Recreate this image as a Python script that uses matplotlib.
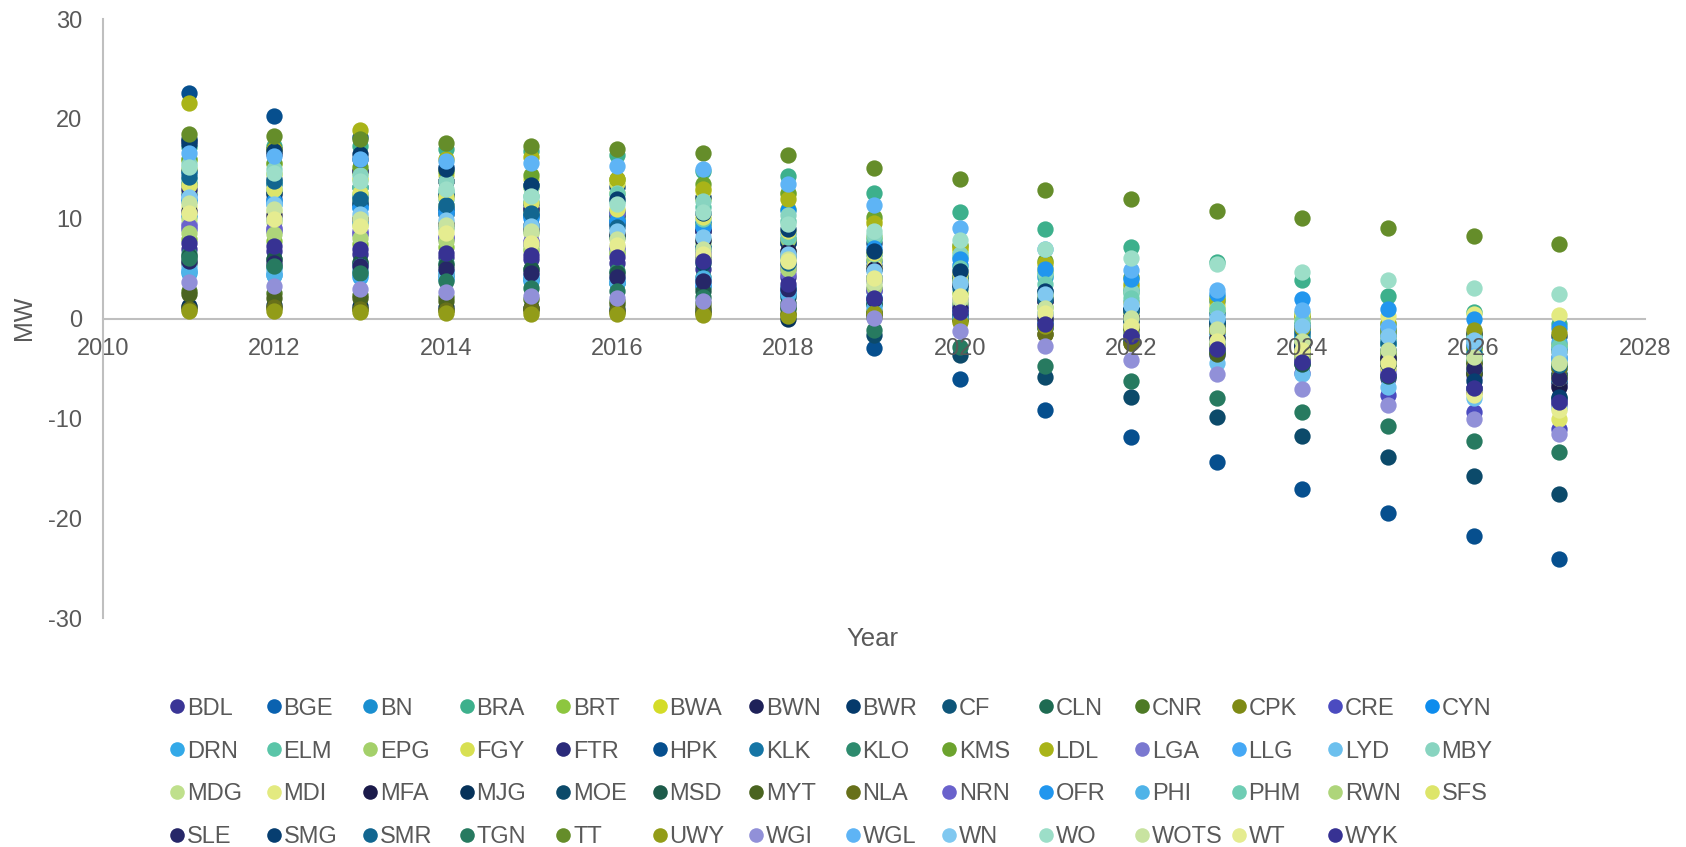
import matplotlib
matplotlib.use("Agg")
import matplotlib.pyplot as plt
from matplotlib.lines import Line2D

plt.rcParams['font.family'] = ['Liberation Sans', 'DejaVu Sans']
plt.rcParams['axes.unicode_minus'] = False

# Data
years = list(range(2011, 2028))

BDL  = [7.0, 6.8, 6.5, 6.2, 6.0, 5.6, 5.0, 4.2, 2.8, 1.3, -0.2, -1.6, -3.0, -4.5, -6.0, -7.4, -8.6]
BGE  = [12.5, 12.0, 11.5, 11.0, 10.4, 9.9, 9.0, 7.6, 5.8, 4.2, 2.6, 1.0, -0.6, -2.0, -3.4, -4.7, -6.0]
BN   = [10.3, 10.0, 9.6, 9.2, 8.8, 8.3, 7.8, 6.8, 5.2, 3.8, 2.4, 1.0, -0.2, -1.4, -2.6, -3.7, -4.8]
BRA  = [17.2, 17.3, 17.3, 17.0, 16.8, 16.4, 14.8, 14.3, 12.6, 10.7, 9.0, 7.2, 5.7, 3.9, 2.3, 0.7, -0.6]
BRT  = [8.0, 7.8, 7.5, 7.2, 6.9, 6.6, 6.2, 5.4, 4.0, 2.6, 1.2, -0.2, -1.4, -2.6, -3.8, -4.9, -6.0]
BWA  = [15.0, 14.5, 14.0, 13.8, 13.2, 12.6, 12.0, 11.0, 8.2, 6.8, 4.8, 2.8, 0.8, -0.6, -2.0, -3.4, -4.8]
BWN  = [17.8, 16.5, 14.8, 13.8, 11.0, 10.2, 8.8, 6.6, 5.2, 3.6, 2.1, 0.7, -0.7, -2.0, -3.3, -4.5, -5.6]
BWR  = [18.0, 17.0, 16.5, 12.4, 11.5, 13.2, 12.2, 7.6, 7.6, 4.3, 2.5, 1.0, -0.5, -2.0, -3.5, -5.0, -6.3]
CF   = [14.8, 14.0, 13.2, 12.4, 11.6, 10.8, 9.6, 8.0, 5.3, 3.9, 2.3, 0.9, -0.5, -1.9, -3.2, -4.4, -5.6]
CLN  = [5.6, 5.2, 4.8, 4.4, 4.0, 3.6, 3.2, 2.5, 1.5, 0.5, -0.6, -1.6, -2.6, -3.6, -4.6, -5.5, -6.4]
CNR  = [2.8, 2.6, 2.4, 2.2, 2.0, 1.8, 1.6, 1.2, 0.8, 0.2, -0.5, -1.2, -2.0, -2.8, -3.5, -4.2, -5.0]
CPK  = [1.2, 1.1, 1.0, 0.9, 0.8, 0.7, 0.6, 0.5, 0.3, 0.0, -0.4, -0.8, -1.3, -1.8, -2.3, -2.8, -3.3]
CRE  = [9.0, 8.8, 8.5, 8.0, 7.5, 7.0, 6.0, 5.0, 3.0, 1.5, -0.5, -2.0, -3.7, -5.5, -7.7, -9.4, -11.1]
CYN  = [11.8, 11.5, 11.2, 10.8, 10.4, 10.0, 9.6, 10.9, 6.5, 5.4, 4.2, 3.0, 1.8, 0.6, -0.6, -1.8, -3.0]
DRN  = [4.6, 4.4, 4.2, 4.0, 3.8, 3.6, 3.4, 3.0, 2.2, 1.4, 0.6, -0.2, -1.0, -1.8, -2.6, -3.4, -4.2]
ELM  = [14.0, 13.6, 13.2, 12.8, 12.3, 11.8, 11.2, 9.8, 8.0, 6.2, 4.4, 2.6, 0.8, -1.0, -2.6, -4.2, -5.8]
EPG  = [12.8, 12.8, 12.0, 11.4, 10.8, 10.2, 9.4, 8.0, 6.0, 4.2, 2.4, 0.7, -0.9, -2.5, -4.0, -5.4, -6.6]
FGY  = [15.9, 15.5, 14.6, 14.4, 14.0, 13.6, 12.8, 12.5, 9.9, 7.3, 5.2, 3.2, 1.4, 0.1, -1.3, -3.0, -4.8]
FTR  = [13.0, 12.5, 14.8, 13.8, 11.0, 9.5, 8.8, 6.6, 5.0, 3.4, 1.8, 0.3, -1.2, -2.7, -4.0, -5.3, -6.5]
HPK  = [22.6, 20.3, 18.2, 15.2, 13.4, 10.4, 7.2, 3.1, -3.0, -6.1, -9.2, -11.9, -14.4, -17.1, -19.5, -21.8, -24.1]
KLK  = [14.6, 13.5, 12.3, 11.1, 10.3, 9.6, 7.3, 6.2, 5.0, 4.0, 2.8, 1.7, 0.5, -0.6, -1.7, -2.8, -3.9]
KLO  = [6.5, 6.0, 5.6, 5.6, 5.0, 4.8, 4.2, 3.0, 1.8, 0.5, -0.9, -2.2, -3.4, -4.6, -5.8, -7.0, -8.0]
KMS  = [16.0, 15.6, 15.2, 14.8, 14.4, 14.0, 13.5, 12.6, 10.2, 7.4, 5.8, 4.2, 2.2, 0.4, -1.4, -3.0, -4.6]
LDL  = [21.6, 17.0, 18.9, 16.0, 16.2, 14.0, 13.0, 12.0, 9.6, 7.1, 5.6, 3.5, 1.9, 0.3, -0.5, -1.6, -2.6]
LGA  = [9.5, 9.0, 8.6, 8.2, 7.7, 7.2, 6.6, 5.5, 3.8, 2.0, 0.3, -1.3, -2.8, -4.0, -5.2, -6.0, -6.8]
LLG  = [4.8, 4.6, 4.4, 4.2, 4.0, 3.7, 3.4, 2.8, 1.8, 0.8, -0.2, -1.2, -2.2, -3.2, -4.2, -5.2, -6.2]
LYD  = [5.2, 5.0, 4.8, 4.6, 4.4, 4.1, 3.8, 3.2, 2.0, 0.6, -0.8, -2.2, -4.5, -5.6, -6.9, -8.0, -9.0]
MBY  = [15.5, 15.0, 14.4, 13.8, 13.2, 12.6, 11.8, 10.4, 8.4, 6.5, 4.6, 2.8, 1.0, -0.7, -2.3, -3.8, -5.2]
MDG  = [10.0, 9.7, 9.4, 9.0, 8.6, 8.2, 7.6, 6.6, 5.0, 3.5, 2.0, 0.6, -0.8, -2.2, -3.5, -4.8, -6.0]
MDI  = [11.2, 10.8, 10.2, 9.7, 9.2, 8.6, 8.0, 6.8, 5.2, 3.8, 2.4, 1.6, 1.0, 0.6, 0.3, 0.5, 0.4]
MFA  = [10.8, 10.4, 10.0, 9.5, 9.0, 8.5, 7.9, 6.8, 5.0, 3.4, 1.8, 0.2, -1.4, -2.8, -4.2, -5.6, -6.9]
MJG  = [1.3, 1.4, 1.3, 1.2, 1.1, 1.0, 0.9, -0.1, 0.6, 0.3, 0.0, -0.3, -0.6, -0.9, -1.2, -1.5, -1.8]
MOE  = [13.5, 12.6, 11.6, 10.5, 9.4, 8.2, 5.6, 2.2, -1.7, -3.7, -5.9, -7.9, -9.9, -11.8, -13.9, -15.8, -17.6]
MSD  = [6.3, 6.0, 5.7, 5.4, 5.0, 4.6, 2.8, 1.6, 1.5, 0.2, -1.0, -2.2, -3.4, -4.6, -5.8, -7.0, -8.1]
MYT  = [2.5, 2.1, 2.1, 1.8, 1.1, 1.5, 1.2, 1.0, 0.5, 0.0, -1.6, -2.5, -3.6, -4.1, -4.7, -5.5, -5.8]
NLA  = [1.0, 1.2, 1.0, 0.9, 1.0, 0.8, 0.7, 0.5, 0.2, -0.2, -1.6, -2.5, -3.0, -3.5, -4.0, -4.5, -5.0]
NRN  = [9.3, 9.1, 8.8, 8.2, 7.8, 10.6, 6.5, 4.5, 3.0, 1.3, -0.2, -1.6, -3.0, -4.3, -5.6, -7.0, -8.2]
OFR  = [12.0, 11.8, 11.1, 10.6, 10.1, 9.8, 9.2, 8.6, 7.1, 6.0, 5.0, 4.0, 2.5, 2.0, 1.0, -0.1, -1.0]
PHI  = [4.8, 4.4, 5.3, 4.8, 4.2, 3.8, 4.1, 2.5, 1.2, 0.2, -0.5, -1.0, -1.6, -2.0, -2.2, -2.3, -2.4]
PHM  = [13.6, 13.0, 12.5, 12.0, 11.8, 12.5, 10.0, 8.2, 6.5, 5.1, 3.5, 2.1, 1.0, -0.3, -1.2, -2.0, -2.8]
RWN  = [8.6, 8.5, 8.1, 7.8, 7.2, 6.7, 6.0, 5.0, 3.2, 1.6, 0.0, -1.4, -2.7, -3.8, -4.4, -5.0, -6.0]
SFS  = [13.4, 13.0, 12.6, 12.2, 11.6, 11.0, 10.2, 8.8, 6.6, 4.6, 2.6, 0.7, -1.3, -3.2, -5.0, -7.5, -10.1]
SLE  = [5.8, 5.6, 5.3, 5.0, 4.6, 4.2, 3.8, 3.0, 2.0, 1.0, 0.0, -1.0, -2.0, -3.0, -4.0, -5.0, -6.0]
SMG  = [17.5, 16.8, 16.0, 15.0, 13.4, 12.0, 10.6, 9.0, 6.8, 4.8, 2.8, 0.9, -1.0, -2.8, -4.6, -6.3, -7.9]
SMR  = [14.2, 13.8, 12.0, 11.4, 10.6, 9.2, 7.0, 5.6, 4.2, 3.1, 2.0, 0.8, -0.3, -1.4, -2.5, -3.6, -4.7]
TGN  = [6.1, 5.3, 4.6, 3.8, 3.1, 2.8, 2.2, 1.2, -1.2, -2.9, -4.8, -6.3, -8.0, -9.4, -10.8, -12.3, -13.4]
TT   = [18.5, 18.3, 18.0, 17.6, 17.3, 17.0, 16.6, 16.4, 15.1, 14.0, 12.9, 12.0, 10.8, 10.1, 9.1, 8.3, 7.5]
UWY  = [0.8, 0.8, 0.7, 0.6, 0.5, 0.5, 0.4, 0.3, 0.6, -0.4, -0.8, -1.0, -1.1, -1.0, -1.1, -1.2, -1.5]
WGI  = [3.7, 3.3, 3.0, 2.7, 2.3, 2.1, 1.8, 1.4, 0.1, -1.3, -2.8, -4.2, -5.6, -7.1, -8.7, -10.1, -11.6]
WGL  = [16.6, 16.3, 16.0, 15.8, 15.6, 15.3, 15.0, 13.5, 11.4, 9.1, 7.0, 4.9, 2.9, 0.9, -0.9, -2.6, -4.0]
WN   = [12.2, 11.5, 10.5, 9.9, 9.3, 8.8, 8.2, 6.5, 4.8, 3.6, 2.5, 1.4, 0.1, -0.8, -1.8, -2.2, -3.4]
WO   = [15.2, 14.6, 13.8, 13.0, 12.3, 11.5, 10.7, 9.5, 8.8, 7.9, 7.0, 6.1, 5.5, 4.7, 3.9, 3.1, 2.5]
WOTS = [11.6, 11.0, 10.0, 9.4, 8.8, 8.0, 7.0, 6.0, 3.6, 2.0, 1.1, 0.1, -1.1, -2.3, -3.2, -3.9, -4.5]
WT   = [10.6, 10.0, 9.3, 8.6, 7.6, 7.4, 6.5, 5.8, 4.1, 2.3, 0.6, -0.8, -2.3, -3.2, -4.5, -7.7, -9.2]
WYK  = [7.6, 7.3, 7.0, 6.6, 6.4, 6.2, 5.8, 3.5, 2.1, 0.7, -0.6, -1.8, -3.1, -4.4, -5.7, -7.0, -8.4]

names = ["BDL", "BGE", "BN", "BRA", "BRT", "BWA", "BWN", "BWR", "CF", "CLN", "CNR", "CPK", "CRE", "CYN",
         "DRN", "ELM", "EPG", "FGY", "FTR", "HPK", "KLK", "KLO", "KMS", "LDL", "LGA", "LLG", "LYD", "MBY",
         "MDG", "MDI", "MFA", "MJG", "MOE", "MSD", "MYT", "NLA", "NRN", "OFR", "PHI", "PHM", "RWN", "SFS",
         "SLE", "SMG", "SMR", "TGN", "TT", "UWY", "WGI", "WGL", "WN", "WO", "WOTS", "WT", "WYK"]
series = [BDL, BGE, BN, BRA, BRT, BWA, BWN, BWR, CF, CLN, CNR, CPK, CRE, CYN,
          DRN, ELM, EPG, FGY, FTR, HPK, KLK, KLO, KMS, LDL, LGA, LLG, LYD, MBY,
          MDG, MDI, MFA, MJG, MOE, MSD, MYT, NLA, NRN, OFR, PHI, PHM, RWN, SFS,
          SLE, SMG, SMR, TGN, TT, UWY, WGI, WGL, WN, WO, WOTS, WT, WYK]

colors = ["#3a3596", "#0a62b0", "#1a8fd0", "#3db08c", "#8dc63f", "#d4dc28", "#1e2159", "#053a6b",
          "#0e5579", "#1e6b52", "#4e7a25", "#7e8a14", "#4b4bc0", "#0d8ced",
          "#33a9e8", "#5ac5a8", "#a4d06a", "#d8e052", "#2a2a7a", "#064f8e", "#1575a5", "#2e8b6e",
          "#6ca32e", "#a9b418", "#7a78d0", "#45a8f5", "#6cc0ee", "#88d4c0",
          "#bfe08c", "#e3ea80", "#1b1a4a", "#06325a", "#0c4a6a", "#1d5b4a", "#4a6420", "#67701a",
          "#6a62cc", "#2196ee", "#4fb3e8", "#6fcdb4", "#aed57a", "#dde56a",
          "#262768", "#073e70", "#126690", "#277a60", "#658d2a", "#929c18", "#9190d8", "#5eb4f5",
          "#80c8f0", "#9cdec8", "#c8e3a0", "#e5ec90", "#373293"]

text_color = "#595959"
axis_color = "#bfbfbf"

W, H = 1686, 847
fig = plt.figure(figsize=(W / 100, H / 100), dpi=100)
ax = fig.add_axes([103 / W, 1 - 618 / H, (1645 - 103) / W, (618 - 19) / H])

for vals, col in zip(series, colors):
    ax.scatter(years, vals, s=138, color=col, linewidths=0, zorder=2)

ax.set_xlim(2010, 2028)
ax.set_ylim(-30, 30)
ax.set_xticks(range(2010, 2029, 2))
ax.set_yticks(range(-30, 31, 10))

# axes styled like a spreadsheet chart: x axis crossing at zero,
# tick labels painted over the markers, zero line under them
ax.set_axisbelow(False)
for side in ("top", "right"):
    ax.spines[side].set_visible(False)
ax.spines["bottom"].set_position(("data", 0))
ax.spines["bottom"].set_color(axis_color)
ax.spines["left"].set_color(axis_color)
ax.spines["bottom"].set_linewidth(1.5)
ax.spines["left"].set_linewidth(1.5)
ax.spines["bottom"].set_zorder(1)
ax.tick_params(axis="x", length=0, pad=14, labelsize=17, labelcolor=text_color)
ax.tick_params(axis="y", length=0, pad=15, labelsize=17, labelcolor=text_color)

fig.text(872 / W, 1 - 639 / H, "Year", ha="center", va="center", fontsize=18.5, color=text_color)
fig.text(24 / W, 1 - 318 / H, "MW", ha="center", va="center", rotation=90, fontsize=18, color=text_color)

# legend laid out in rows of 14, evenly spaced
ncol = 14
x0, dx = 177, 96.5
y0, dy = 706.4, 42.7
for i, (name, col) in enumerate(zip(names, colors)):
    r, c = divmod(i, ncol)
    xp = x0 + c * dx
    yp = y0 + r * dy
    fig.add_artist(Line2D([xp / W], [1 - yp / H], marker="o", markersize=10.5, color=col,
                          markeredgewidth=0, linestyle="none", transform=fig.transFigure))
    fig.text((xp + 10) / W, 1 - yp / H, name, ha="left", va="center_baseline",
             fontsize=17, color=text_color)

fig.savefig("out.png", dpi=100)
